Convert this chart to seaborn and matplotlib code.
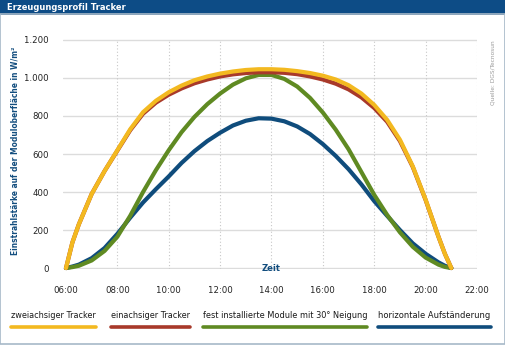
import matplotlib
matplotlib.use("Agg")
import matplotlib.pyplot as plt
from matplotlib import font_manager
from matplotlib.lines import Line2D
from matplotlib.patches import Rectangle
import pandas as pd
import seaborn as sns

# ---- data ----
hours = [6.0, 6.25, 6.5, 7.0, 7.5, 8.0, 8.5, 9.0, 9.5, 10.0, 10.5, 11.0, 11.5, 12.0, 12.5,
         13.0, 13.5, 14.0, 14.5, 15.0, 15.5, 16.0, 16.5, 17.0, 17.5, 18.0, 18.5,
         19.0, 19.5, 20.0, 20.5, 20.75, 21.0]
zweiachsig = [0, 135, 230, 390, 510, 620, 730, 820, 880, 925, 960, 988, 1008, 1023, 1034,
              1042, 1046, 1046, 1043, 1036, 1026, 1012, 992, 962, 918, 858, 780,
              675, 535, 360, 165, 75, 0]
einachsig = [0, 135, 230, 390, 510, 618, 725, 812, 870, 912, 945, 972, 992, 1008, 1019,
             1026, 1030, 1030, 1027, 1020, 1008, 992, 970, 940, 898, 842, 770,
             668, 532, 358, 165, 75, 0]
fest30 = [0, 5, 12, 40, 90, 165, 275, 400, 515, 620, 715, 795, 862, 918, 965,
          998, 1016, 1016, 995, 955, 895, 818, 728, 625, 505, 385, 280,
          188, 112, 55, 18, 6, 0]
horizontal = [0, 8, 18, 52, 105, 180, 265, 345, 415, 482, 553, 615, 668, 712, 750,
              775, 788, 786, 772, 745, 705, 652, 590, 520, 440, 352, 275,
              200, 130, 75, 30, 12, 0]
series_names = ["zweiachsiger Tracker", "einachsiger Tracker",
                "fest installierte Module mit 30° Neigung", "horizontale Aufständerung"]
x_ticks = [6, 8, 10, 12, 14, 16, 18, 20, 22]
x_tick_labels = ["06:00", "08:00", "10:00", "12:00", "14:00", "16:00", "18:00", "20:00", "22:00"]
y_ticks = [0, 200, 400, 600, 800, 1000, 1200]
y_tick_labels = ["0", "200", "400", "600", "800", "1.000", "1.200"]

colors = ["#f3b920", "#a8392a", "#5f8a22", "#0f4c7c"]
dark_blue = "#124d7e"

# ---- font: prefer a condensed face ----
def find_font():
    cands = [("Liberation Sans Narrow", "normal"), ("DejaVu Sans", "condensed"),
             ("Roboto Condensed", "normal"), ("Open Sans Condensed", "normal"),
             ("Roboto", "normal"), ("Liberation Sans", "normal")]
    for fam, st in cands:
        try:
            p = font_manager.findfont(font_manager.FontProperties(family=fam, stretch=st),
                                      fallback_to_default=False)
        except Exception:
            continue
        if st == "condensed" and "ondensed" not in p:
            continue
        return fam, st
    return "DejaVu Sans", "normal"

FAM, STRETCH = find_font()
sns.set_theme(style="white")
plt.rcParams["font.family"] = [FAM, "DejaVu Sans"]
plt.rcParams["font.stretch"] = STRETCH

df = pd.DataFrame({"Zeit": hours * 4,
                   "Wert": zweiachsig + einachsig + fest30 + horizontal,
                   "Serie": sum([[n] * len(hours) for n in series_names], [])})

W, H = 506, 347
fig = plt.figure(figsize=(W / 100, H / 100), dpi=100)
fig.canvas.draw()
R = fig.canvas.get_renderer()


def fx(px):
    return px / W


def fy(py):
    return 1 - py / H


def fit(t, target, vertical=False):
    for _ in range(3):
        bb = t.get_window_extent(renderer=R)
        cur = bb.height if vertical else bb.width
        if cur > 0:
            t.set_fontsize(t.get_fontsize() * target / cur)
    return t


def fitted_size(text, target, weight="normal"):
    t = fig.text(0, 0, text, fontsize=10, fontweight=weight, stretch=STRETCH)
    fit(t, target)
    s = t.get_fontsize()
    t.remove()
    return s


ax_l, ax_r, ax_t, ax_b = 63, 477, 39, 269
ax = fig.add_axes([fx(ax_l), fy(ax_b), fx(ax_r - ax_l), (ax_b - ax_t) / H])

for yv in y_ticks:
    ax.axhline(yv, color="#dcdcdc", lw=1.0, zorder=0)
for xv in x_ticks[1:]:
    ax.axvline(xv, color="#c8c8c8", lw=0.8, ls=(0, (1, 2)), zorder=0)

draw_order = ["horizontale Aufständerung", "fest installierte Module mit 30° Neigung",
              "einachsiger Tracker", "zweiachsiger Tracker"]
pal = dict(zip(series_names, colors))
for i, name in enumerate(draw_order):
    sub = df[df["Serie"] == name]
    sns.lineplot(data=sub, x="Zeit", y="Wert", color=pal[name], lw=3.0, ax=ax,
                 zorder=3 + i, legend=False, solid_capstyle="round", solid_joinstyle="round",
                 clip_on=False)

ax.set_xlim(6 - 3 / 25.7, 22)
ax.set_ylim(-5, 1205)
ax.set_xticks(x_ticks)
ax.set_xticklabels(x_tick_labels)
ax.set_yticks(y_ticks)
ax.set_yticklabels(y_tick_labels)
tick_size = fitted_size("14:00", 24)
ax.tick_params(axis="x", length=6, width=0.6, color="#cfcfcf", pad=6, labelsize=tick_size,
               labelcolor="#222222")
ax.tick_params(axis="y", length=0, pad=10, labelsize=tick_size, labelcolor="#222222")
ax.set_xlabel("")
ax.set_ylabel("")
for s in ax.spines.values():
    s.set_visible(False)

zt = ax.text(14, 0, "Zeit", ha="center", va="center", color=dark_blue, fontsize=9,
             fontweight="bold", zorder=10)
fit(zt, 19)

yl = fig.text(fx(15), fy(151), "Einstrahlstärke auf der Moduloberfläche in W/m²", rotation=90,
              ha="center", va="center", color=dark_blue, fontsize=9, fontweight="bold")
fit(yl, 210, vertical=True)

src = fig.text(fx(493), fy(40), "Quelle: DGS/Tecnosun", rotation=90, ha="center", va="top",
               color="#9a9a9a", fontsize=6)
fit(src, 64, vertical=True)

fig.patches.append(Rectangle((0, fy(15)), 1, 15 / H, transform=fig.transFigure,
                             facecolor="#0d4c86", edgecolor="none", zorder=0))
tt = fig.text(fx(7), fy(7.5), "Erzeugungsprofil Tracker", ha="left", va="center", color="white",
              fontsize=9, fontweight="bold")
fit(tt, 118)

fig.patches.append(Rectangle((fx(0.5), fy(343.5)), fx(505), (343.5 - 14) / H,
                             transform=fig.transFigure, facecolor="none",
                             edgecolor="#a7b9c8", lw=1.2, zorder=0))

leg_c = [53.5, 150.5, 285, 434.5]
leg_w = [78, 73, 154, 103]
for name, c, lx, lw_ in zip(series_names, colors, leg_c, leg_w):
    t = fig.text(fx(lx), fy(315), name, ha="center", va="center", color="#1a1a1a", fontsize=9)
    fit(t, lw_ * 1.08)
    bb = t.get_window_extent(renderer=R)
    fig.add_artist(Line2D([bb.x0 / W, bb.x1 / W], [fy(327), fy(327)], transform=fig.transFigure,
                          color=c, lw=2.6, solid_capstyle="round"))

fig.savefig("out.png", dpi=100, facecolor="white")
